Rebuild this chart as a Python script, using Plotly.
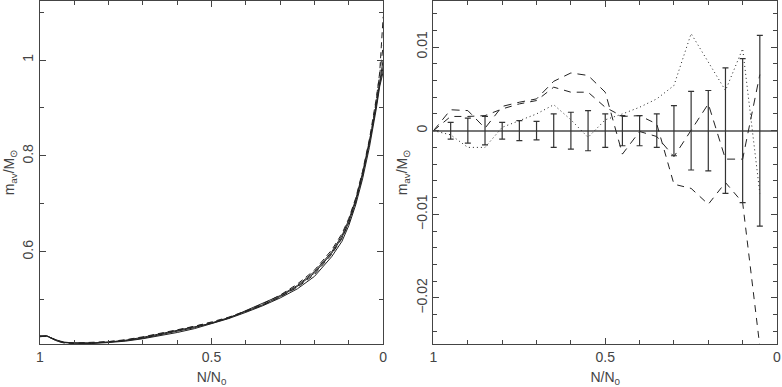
import plotly.graph_objects as go

# ---------------- data ----------------
# Left panel: average mass vs N/N0 (several runs)
x_left = [1.0, 0.98, 0.95, 0.93, 0.9, 0.85, 0.8, 0.75, 0.7, 0.65, 0.6, 0.55, 0.5,
          0.45, 0.4, 0.35, 0.3, 0.25, 0.2, 0.15, 0.12, 0.1, 0.08, 0.06, 0.04,
          0.03, 0.02, 0.01, 0.0]
m_run1 = [0.424, 0.425, 0.415, 0.411, 0.410, 0.410, 0.412, 0.415, 0.420, 0.427, 0.434,
          0.442, 0.452, 0.463, 0.476, 0.490, 0.507, 0.528, 0.556, 0.597, 0.630, 0.662,
          0.705, 0.760, 0.826, 0.862, 0.905, 0.950, 0.985]
m_run2 = [0.424, 0.424, 0.414, 0.410, 0.409, 0.410, 0.413, 0.417, 0.423, 0.430, 0.437,
          0.445, 0.454, 0.464, 0.477, 0.492, 0.510, 0.533, 0.562, 0.604, 0.638, 0.670,
          0.712, 0.768, 0.835, 0.874, 0.920, 0.970, 1.030]
m_run3 = [0.425, 0.424, 0.416, 0.412, 0.410, 0.409, 0.411, 0.414, 0.419, 0.425, 0.432,
          0.440, 0.450, 0.461, 0.474, 0.488, 0.504, 0.523, 0.549, 0.590, 0.622, 0.655,
          0.698, 0.752, 0.818, 0.855, 0.898, 0.945, 0.975]
m_run4 = [0.423, 0.425, 0.415, 0.411, 0.410, 0.411, 0.413, 0.416, 0.421, 0.428, 0.436,
          0.444, 0.453, 0.462, 0.475, 0.489, 0.506, 0.526, 0.553, 0.595, 0.628, 0.660,
          0.703, 0.758, 0.828, 0.868, 0.915, 0.975, 1.090]
m_run5 = [0.424, 0.425, 0.414, 0.411, 0.410, 0.410, 0.412, 0.416, 0.422, 0.429, 0.436,
          0.443, 0.451, 0.462, 0.478, 0.493, 0.509, 0.530, 0.559, 0.600, 0.634, 0.667,
          0.709, 0.765, 0.832, 0.866, 0.908, 0.958, 1.000]

# Right panel: deviations from mean, with error bars
x_right = [1.0, 0.95, 0.9, 0.85, 0.8, 0.75, 0.7, 0.65, 0.6, 0.55, 0.5,
           0.45, 0.4, 0.35, 0.3, 0.25, 0.2, 0.15, 0.1, 0.05]
dev_a = [0.0, 0.0025, 0.0024, 0.0003, 0.0029, 0.0034, 0.0038, 0.0059, 0.0069, 0.0066,
         0.0046, -0.0028, -0.0001, -0.0007, -0.0031, 0.0, 0.0032, -0.0034, -0.0034, 0.0067]
dev_b = [0.0, 0.0017, 0.0017, 0.0018, 0.0026, 0.0032, 0.0036, 0.0052, 0.0046, 0.0046,
         0.0028, 0.0017, 0.0018, 0.0008, -0.0064, -0.0069, -0.0088, -0.0062, -0.0086, -0.0258]
dev_c = [0.0, -0.0005, -0.0020, -0.0020, 0.0004, 0.0012, 0.0020, 0.0031, 0.0013, -0.0008,
         0.0013, 0.0020, 0.0028, 0.0038, 0.0054, 0.0116, 0.0082, 0.0048, 0.0098, -0.0075]

x_err = [0.95, 0.9, 0.85, 0.8, 0.75, 0.7, 0.65, 0.6, 0.55, 0.5,
         0.45, 0.4, 0.35, 0.3, 0.25, 0.2, 0.15, 0.1, 0.05]
y_err = [0.0] * len(x_err)
err_half = [0.0010, 0.0015, 0.0017, 0.0010, 0.0012, 0.0011, 0.0020, 0.0022, 0.0024, 0.0020,
            0.0018, 0.0018, 0.0020, 0.0030, 0.0047, 0.0048, 0.0075, 0.0086, 0.0114]

# ---------------- figure ----------------
fig = go.Figure()
line_col = "#222222"

left_runs = [(m_run1, "solid"), (m_run2, "6px,4px"), (m_run3, "solid"),
             (m_run4, "6px,4px"), (m_run5, "solid")]
for ys, dash in left_runs:
    fig.add_trace(go.Scatter(x=x_left, y=ys, mode="lines", xaxis="x", yaxis="y",
                             line=dict(color=line_col, width=1, dash=dash),
                             showlegend=False, hoverinfo="skip"))

fig.add_trace(go.Scatter(x=x_right, y=dev_a, mode="lines", xaxis="x2", yaxis="y2",
                         line=dict(color=line_col, width=1, dash="8px,6px"), showlegend=False))
fig.add_trace(go.Scatter(x=x_right, y=dev_b, mode="lines", xaxis="x2", yaxis="y2",
                         line=dict(color=line_col, width=1, dash="7px,6px"), showlegend=False))
fig.add_trace(go.Scatter(x=x_right, y=dev_c, mode="lines", xaxis="x2", yaxis="y2",
                         line=dict(color=line_col, width=1, dash="1px,3px"), showlegend=False))
fig.add_trace(go.Scatter(x=x_err, y=y_err, mode="markers", xaxis="x2", yaxis="y2",
                         marker=dict(size=1, color="rgba(0,0,0,0)"),
                         error_y=dict(type="data", array=err_half, visible=True,
                                      color="#333333", thickness=1.2, width=3),
                         showlegend=False))

font = dict(family="Liberation Sans, Arial, sans-serif", size=14, color="#444444")
axis_common = dict(showline=True, linecolor="#444444", linewidth=1, mirror="ticks",
                   ticks="inside", tickcolor="#444444", showgrid=False, zeroline=False,
                   tickfont=font, automargin=False)

fig.update_layout(
    width=782, height=387,
    margin=dict(l=40, r=5, t=1, b=43),
    paper_bgcolor="white", plot_bgcolor="white",
    xaxis=dict(domain=[0, 0.4656], range=[1, 0], tickvals=[1, 0.5, 0],
               ticktext=["1", "0.5", "0"], ticklen=6,
               minor=dict(dtick=0.1, ticklen=4, ticks="inside", tickcolor="#444444"),
               title=dict(text="N/N<sub>0</sub>", font=font, standoff=12),
               anchor="y", **axis_common),
    yaxis=dict(domain=[0, 1], range=[0.408, 1.123], tickvals=[0.6, 0.8, 1.0],
               ticktext=["0.6", "0.8", "1"], ticklen=6, tickangle=-90,
               minor=dict(dtick=0.1, ticklen=4, ticks="inside", tickcolor="#444444"),
               title=dict(text="m<sub>av</sub>/M<sub>⊙</sub>", font=font, standoff=2),
               anchor="x", **axis_common),
    xaxis2=dict(domain=[0.5339, 1], range=[1, 0], tickvals=[1, 0.5, 0],
                ticktext=["1", "0.5", "0"], ticklen=6,
                minor=dict(dtick=0.1, ticklen=4, ticks="inside", tickcolor="#444444"),
                title=dict(text="N/N<sub>0</sub>", font=font, standoff=12),
                anchor="y2", **axis_common),
    yaxis2=dict(domain=[0, 1], range=[-0.0255, 0.0155], tickvals=[-0.02, -0.01, 0, 0.01],
                ticktext=["−0.02", "−0.01", "0", "0.01"], ticklen=6, tickangle=-90,
                minor=dict(dtick=0.002, ticklen=4, ticks="inside", tickcolor="#444444"),
                title=dict(text="m<sub>av</sub>/M<sub>⊙</sub>", font=font, standoff=2),
                anchor="x2", **axis_common),
)
fig.layout.yaxis2.zeroline = True
fig.layout.yaxis2.zerolinecolor = "#777777"
fig.layout.yaxis2.zerolinewidth = 1.5

fig.write_html("out.html", config={"displayModeBar": False},
               post_script="document.body.style.margin='0';document.body.style.overflow='hidden';")
